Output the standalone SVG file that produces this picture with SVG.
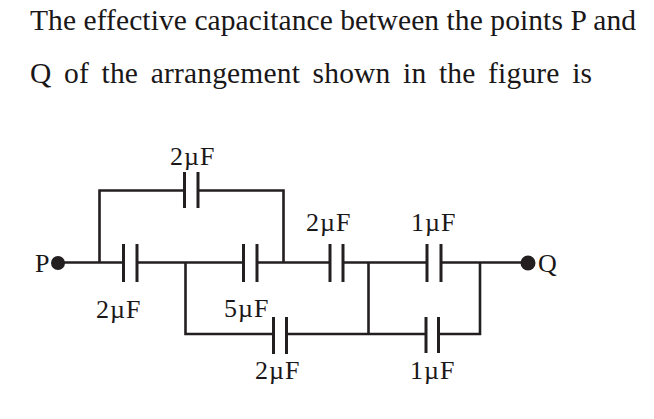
<svg xmlns="http://www.w3.org/2000/svg" width="654" height="419" viewBox="0 0 654 419">
<style>
text{font-family:"Liberation Serif","Times New Roman",serif;fill:#1a1718}
.h{font-size:29.5px}
.l{font-size:26px;letter-spacing:1px}
.w{fill:none;stroke:#231f20;stroke-width:2.6;stroke-linejoin:miter}
.p{fill:none;stroke:#231f20;stroke-width:3}
.d{fill:#231f20}
</style>
<rect width="654" height="419" fill="#fff"/>
<g id="question">
<text class="h" x="30" y="30" textLength="606" lengthAdjust="spacing">The effective capacitance between the points P and</text>
<text class="h" x="30" y="83" textLength="562" lengthAdjust="spacing" word-spacing="5">Q of the arrangement shown in the figure is</text>
</g>
<g id="connectors">
<path class="w" d="M58 262.5H123.5M137 262.5H243.5M257 262.5H330M343 262.5H427M441 262.5H528"/>
<path class="w" d="M99.5 262.5V190.5H184.5M198 190.5H283.5V262.5"/>
<path class="w" d="M185.5 262.5V334H273.5M286.5 334H426M438.5 334H480V262.5"/>
<path class="w" d="M368.5 262.5V334"/>
</g>
<g id="P"><circle class="d" cx="58" cy="263" r="7"/><text class="l" x="35" y="272" style="letter-spacing:0">P</text></g>
<g id="Q"><circle class="d" cx="528" cy="263" r="7.5"/><text class="l" x="538" y="272" style="letter-spacing:0">Q</text></g>
<g id="C1"><path class="p" d="M184.5 172V208M198 172V208"/><text class="l" x="170" y="165">2µF</text></g>
<g id="C2"><path class="p" d="M123.5 244V282M137 244V282"/><text class="l" x="96" y="318">2µF</text></g>
<g id="C3"><path class="p" d="M243.5 244V282M257 244V282"/><text class="l" x="224" y="317">5µF</text></g>
<g id="C4"><path class="p" d="M273.5 317V354M286.5 317V354"/><text class="l" x="255" y="379">2µF</text></g>
<g id="C5"><path class="p" d="M330 244V282M343 244V282"/><text class="l" x="306" y="231">2µF</text></g>
<g id="C6"><path class="p" d="M427 244V282M441 244V282"/><text class="l" x="411" y="231">1µF</text></g>
<g id="C7"><path class="p" d="M426 317V353M438.5 317V353"/><text class="l" x="410" y="379">1µF</text></g>
</svg>
